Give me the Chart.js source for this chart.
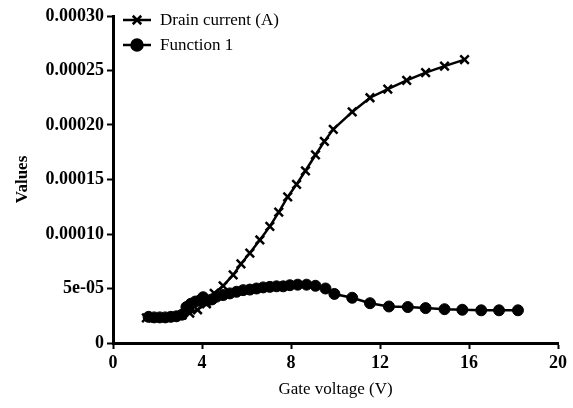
<!DOCTYPE html>
<html>
<head>
<meta charset="utf-8">
<script src="https://cdn.jsdelivr.net/npm/chart.js@4.4.1/dist/chart.umd.min.js"></script>
<style>
  html, body { margin: 0; padding: 0; background: #fff; }
  #wrap { width: 573px; height: 408px; }
</style>
</head>
<body>
<div id="wrap"><canvas id="chart"></canvas></div>
<script>
// Drain current (A) vs gate voltage (V)
const drainV = [1.5, 1.9, 2.3, 2.7, 3.1, 3.45, 3.8, 4.2, 4.55, 4.95, 5.4, 5.75, 6.15, 6.6, 7.05, 7.45, 7.85, 8.25, 8.65, 9.1, 9.5, 9.9, 10.75, 11.55, 12.35, 13.2, 14.05, 14.9, 15.8];
const drainI = [2.3e-5, 2.3e-5, 2.35e-5, 2.4e-5, 2.55e-5, 2.75e-5, 3.05e-5, 3.6e-5, 4.55e-5, 5.25e-5, 6.25e-5, 7.25e-5, 8.25e-5, 9.45e-5, 1.07e-4, 1.2e-4, 1.34e-4, 1.455e-4, 1.58e-4, 1.725e-4, 1.85e-4, 1.96e-4, 2.12e-4, 2.25e-4, 2.33e-4, 2.41e-4, 2.48e-4, 2.54e-4, 2.6e-4];

// Function 1
const funcV = [1.6, 1.85, 2.1, 2.35, 2.6, 2.85, 3.1, 3.3, 3.5, 3.7, 3.9, 4.05, 4.25, 4.45, 4.65, 4.95, 5.25, 5.55, 5.85, 6.15, 6.45, 6.75, 7.05, 7.35, 7.65, 7.95, 8.3, 8.7, 9.1, 9.55, 9.95, 10.75, 11.55, 12.4, 13.25, 14.05, 14.9, 15.7, 16.55, 17.35, 18.2];
const funcY = [2.4e-5, 2.35e-5, 2.35e-5, 2.35e-5, 2.4e-5, 2.45e-5, 2.6e-5, 3.3e-5, 3.6e-5, 3.8e-5, 3.9e-5, 4.2e-5, 3.9e-5, 4.0e-5, 4.25e-5, 4.4e-5, 4.55e-5, 4.7e-5, 4.85e-5, 4.9e-5, 5.0e-5, 5.1e-5, 5.15e-5, 5.2e-5, 5.2e-5, 5.3e-5, 5.35e-5, 5.35e-5, 5.25e-5, 5.0e-5, 4.5e-5, 4.15e-5, 3.65e-5, 3.35e-5, 3.3e-5, 3.2e-5, 3.1e-5, 3.05e-5, 3.0e-5, 3.0e-5, 3.0e-5];

const yTickValues = [0, 5e-5, 1e-4, 1.5e-4, 2e-4, 2.5e-4, 3e-4];
const yTickLabels = ['0', '5e-05', '0.00010', '0.00015', '0.00020', '0.00025', '0.00030'];

const serif = '"Liberation Serif", "DejaVu Serif", serif';

// legend drawn inside the plot, line + marker like the original
const insideLegend = {
    id: 'insideLegend',
    afterDraw(chart) {
        const ctx = chart.ctx;
        const x0 = chart.chartArea.left + 10;
        const rows = [20, 45];
        ctx.save();
        chart.data.datasets.forEach((ds, i) => {
            const y = rows[i];
            ctx.strokeStyle = '#000';
            ctx.lineWidth = 2.5;
            ctx.beginPath();
            ctx.moveTo(x0, y);
            ctx.lineTo(x0 + 28, y);
            ctx.stroke();
            Chart.helpers.drawPoint(ctx, {
                pointStyle: ds.pointStyle,
                radius: ds.pointRadius,
                borderWidth: ds.pointBorderWidth
            }, x0 + 14, y);
            ctx.fillStyle = '#000';
            ctx.font = '17px ' + serif;
            ctx.textBaseline = 'middle';
            ctx.textAlign = 'left';
            ctx.fillText(ds.label, x0 + 37, y + 1);
        });
        ctx.restore();
    }
};

const tickGrid = {
    display: true,
    drawOnChartArea: false,
    drawTicks: true,
    tickLength: 6,
    tickColor: '#000',
    tickWidth: 2
};

new Chart(document.getElementById('chart').getContext('2d'), {
    type: 'scatter',
    data: {
        datasets: [
            {
                label: 'Drain current (A)',
                data: drainV.map((v, i) => ({ x: v, y: drainI[i] })),
                showLine: true,
                borderColor: '#000',
                backgroundColor: '#000',
                borderWidth: 2.5,
                pointStyle: 'crossRot',
                pointRadius: 6,
                pointBorderWidth: 2.5,
                pointBorderColor: '#000'
            },
            {
                label: 'Function 1',
                data: funcV.map((v, i) => ({ x: v, y: funcY[i] })),
                showLine: true,
                borderColor: '#000',
                backgroundColor: '#000',
                borderWidth: 2.5,
                pointStyle: 'circle',
                pointRadius: 5.5,
                pointBorderWidth: 1,
                pointBackgroundColor: '#000',
                pointBorderColor: '#000'
            }
        ]
    },
    options: {
        responsive: true,
        maintainAspectRatio: false,
        animation: false,
        layout: { padding: { top: 16, right: 15, left: 0, bottom: 0 } },
        plugins: {
            legend: { display: false },
            tooltip: { enabled: false }
        },
        scales: {
            x: {
                type: 'linear',
                min: 0,
                max: 20,
                ticks: {
                    stepSize: 4,
                    color: '#000',
                    font: { family: serif, size: 18, weight: 'bold' },
                    padding: 4
                },
                grid: tickGrid,
                border: { color: '#000', width: 3 },
                title: {
                    display: true,
                    text: 'Gate voltage (V)',
                    color: '#000',
                    font: { family: serif, size: 17 },
                    padding: { top: 2, bottom: 8 }
                },
                afterFit: (s) => { s.height = 65; }
            },
            y: {
                min: 0,
                max: 0.0003,
                afterBuildTicks: (s) => { s.ticks = yTickValues.map(v => ({ value: v })); },
                ticks: {
                    color: '#000',
                    font: { family: serif, size: 18, weight: 'bold' },
                    padding: 3,
                    callback: (v) => {
                        const k = yTickValues.findIndex(t => Math.abs(t - v) < 1e-9);
                        return k >= 0 ? yTickLabels[k] : '';
                    }
                },
                grid: tickGrid,
                border: { color: '#000', width: 3 },
                title: {
                    display: true,
                    text: 'Values',
                    color: '#000',
                    font: { family: serif, size: 17, weight: 'bold' },
                    padding: { top: 12, bottom: 4 }
                },
                afterFit: (s) => { s.width = 113; }
            }
        }
    },
    plugins: [insideLegend]
});
</script>
</body>
</html>
